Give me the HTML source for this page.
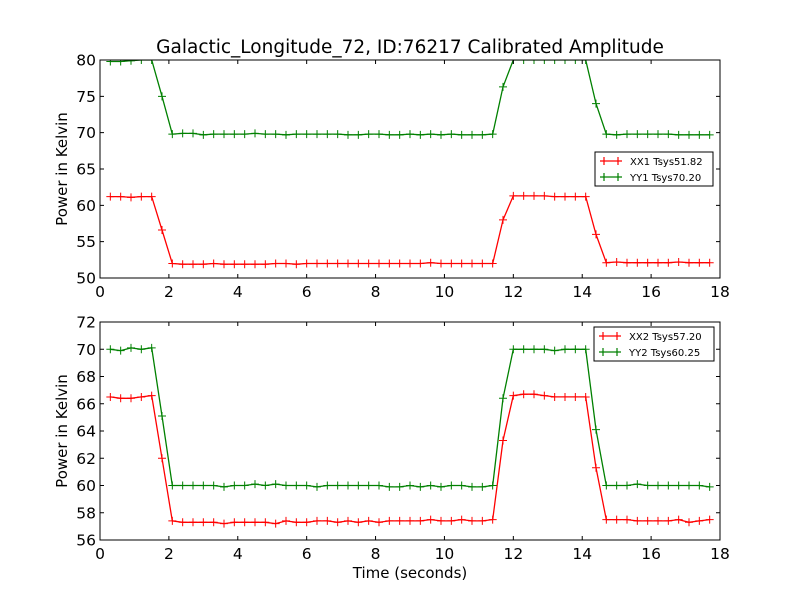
<!DOCTYPE html>
<html><head><meta charset="utf-8"><style>
body{margin:0;background:#fff;}
svg{display:block;font-family:"DejaVu Sans","Liberation Sans",sans-serif;}
</style></head><body>
<svg id="chart" width="800" height="600" viewBox="0 0 800 600">
<rect width="800" height="600" fill="#fff"/>
<text x="410" y="53" text-anchor="middle" font-size="18.5">Galactic_Longitude_72, ID:76217 Calibrated Amplitude</text>
<text x="410" y="578" text-anchor="middle" font-size="15">Time (seconds)</text>
</svg>
<script>
const times = [];
for (let i = 0; i < 59; i++) times.push(+(0.3 * (i + 1)).toFixed(2));
const xTicks = [0,2,4,6,8,10,12,14,16,18];
const topTicks = [50,55,60,65,70,75,80];
const botTicks = [56,58,60,62,64,66,68,70,72];
const xx1 = [61.2,61.2,61.1,61.2,61.2,56.6,
 52.0,51.9,51.9,51.9,52.0,51.9,51.9,51.9,51.9,51.9,52.0,52.0,51.9,52.0,52.0,52.0,52.0,52.0,52.0,52.0,52.0,52.0,52.0,52.0,52.0,52.1,52.0,52.0,52.0,52.0,52.0,52.0,
 58.0,61.3,61.3,61.3,61.3,61.2,61.2,61.2,61.2,56.0,
 52.1,52.2,52.1,52.1,52.1,52.1,52.1,52.2,52.1,52.1,52.1];
const yy1 = [79.8,79.8,79.9,80,80,75.0,
 69.8,69.9,69.9,69.7,69.8,69.8,69.8,69.8,69.9,69.8,69.8,69.7,69.8,69.8,69.8,69.8,69.8,69.7,69.7,69.8,69.8,69.7,69.7,69.8,69.7,69.8,69.7,69.8,69.7,69.7,69.7,69.8,
 76.3,80,80,80,80,80,80,80,80,74.0,
 69.8,69.7,69.8,69.8,69.8,69.8,69.8,69.7,69.7,69.7,69.7];
const xx2 = [66.5,66.4,66.4,66.5,66.6,62.0,
 57.4,57.3,57.3,57.3,57.3,57.2,57.3,57.3,57.3,57.3,57.2,57.4,57.3,57.3,57.4,57.4,57.3,57.4,57.3,57.4,57.3,57.4,57.4,57.4,57.4,57.5,57.4,57.4,57.5,57.4,57.4,57.5,
 63.3,66.6,66.7,66.7,66.6,66.5,66.5,66.5,66.5,61.3,
 57.5,57.5,57.5,57.4,57.4,57.4,57.4,57.5,57.3,57.4,57.5];
const yy2 = [70.0,69.9,70.1,70.0,70.1,65.1,
 60.0,60.0,60.0,60.0,60.0,59.9,60.0,60.0,60.1,60.0,60.1,60.0,60.0,60.0,59.9,60.0,60.0,60.0,60.0,60.0,60.0,59.9,59.9,60.0,59.9,60.0,59.9,60.0,60.0,59.9,59.9,60.0,
 66.4,70.0,70.0,70.0,70.0,69.9,70.0,70.0,70.0,64.1,
 60.0,60.0,60.0,60.1,60.0,60.0,60.0,60.0,60.0,60.0,59.9];

const NS = "http://www.w3.org/2000/svg";
const svg = document.getElementById("chart");
function mk(tag, attrs, parent) {
  const e = document.createElementNS(NS, tag);
  for (const k in attrs) e.setAttribute(k, attrs[k]);
  (parent || svg).appendChild(e);
  return e;
}
const X0 = 100, X1 = 720;
const xScale = v => X0 + (v - 0) / 18 * (X1 - X0);

function panel(name, top, bottom, yMin, yMax, yTicks, series, legend) {
  const g = mk("g", {});
  
  
  const yScale = v => bottom - (v - yMin) / (yMax - yMin) * (bottom - top);
  const clipId = name + "-clip";
  const cp = mk("clipPath", {id: clipId}, g);
  mk("rect", {x: X0, y: top, width: X1 - X0, height: bottom - top}, cp);
  const sg = mk("g", {"clip-path": "url(#" + clipId + ")"}, g);
  series.forEach(s => {
    const pts = times.map((t, i) => xScale(t).toFixed(1) + "," + yScale(s.vals[i]).toFixed(1)).join(" ");
    const line = mk("polyline", {points: pts, fill: "none", stroke: s.color, "stroke-width": 1.3}, sg);
    
    
    times.forEach((t, i) => {
      const x = xScale(t), y = yScale(s.vals[i]);
      const m = mk("path", {d: `M${x-4},${y}H${x+4}M${x},${y-4}V${y+4}`, stroke: s.color, "stroke-width": 1}, sg);
      
      
    });
  });
  const fr = mk("rect", {x: X0, y: top, width: X1 - X0, height: bottom - top, fill: "none", stroke: "#000", "stroke-width": 1}, g);
  
  
  xTicks.forEach(t => {
    const x = xScale(t);
    mk("path", {d: `M${x},${bottom}V${bottom-4}M${x},${top}V${top+4}`, stroke: "#000"}, g);
    const tl = mk("text", {x: x, y: bottom + 19, "text-anchor": "middle", "font-size": 15.5}, g);
    tl.textContent = t;
    
    
  });
  yTicks.forEach(t => {
    const y = yScale(t);
    mk("path", {d: `M${X0},${y}H${X0+4}M${X1},${y}H${X1-4}`, stroke: "#000"}, g);
    const tl = mk("text", {x: X0 - 4, y: y + 5.5, "text-anchor": "end", "font-size": 15.5}, g);
    tl.textContent = t;
    
    
  });
  const cy = (top + bottom) / 2;
  const yt = mk("text", {x: 67, y: cy, "text-anchor": "middle", "font-size": 15, transform: `rotate(-90 67 ${cy})`}, g);
  yt.textContent = "Power in Kelvin";
  
  
  const lg = mk("g", {}, g);
  
  
  mk("rect", {x: legend.x, y: legend.y, width: legend.w, height: 34, fill: "#fff", stroke: "#000", "stroke-width": 1}, lg);
  series.forEach((s, k) => {
    const y = legend.y + 9 + k * 16;
    const lx = legend.x + 5;
    mk("path", {d: `M${lx},${y}H${lx+22}M${lx+4},${y-4}V${y+4}M${lx+18},${y-4}V${y+4}`, stroke: s.color, "stroke-width": 1.2}, lg);
    const tx = mk("text", {x: lx + 30, y: y + 4, "font-size": 10}, lg);
    tx.textContent = s.label;
    
    
  });
}
panel("top-panel", 60, 278, 50, 80, topTicks,
  [{vals: xx1, color: "#ff0000", label: "XX1 Tsys51.82"}, {vals: yy1, color: "#008000", label: "YY1 Tsys70.20"}],
  {x: 595, y: 152, w: 118});
panel("bottom-panel", 322, 540, 56, 72, botTicks,
  [{vals: xx2, color: "#ff0000", label: "XX2 Tsys57.20"}, {vals: yy2, color: "#008000", label: "YY2 Tsys60.25"}],
  {x: 594, y: 327, w: 120});
</script>
</body></html>
